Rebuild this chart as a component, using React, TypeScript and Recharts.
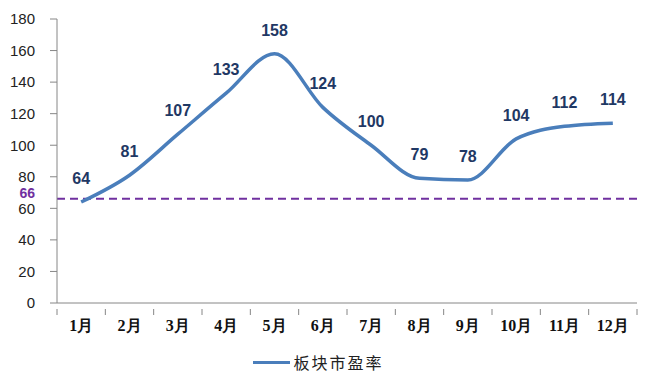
import React from 'react';
import {
  LineChart,
  Line,
  XAxis,
  YAxis,
  ReferenceLine,
  LabelList,
  Legend,
} from 'recharts';

const months = ['1月', '2月', '3月', '4月', '5月', '6月', '7月', '8月', '9月', '10月', '11月', '12月'];
const peValues = [64, 81, 107, 133, 158, 124, 100, 79, 78, 104, 112, 114];
const yTicks = [0, 20, 40, 60, 80, 100, 120, 140, 160, 180];
const refValue = 66;
const seriesName = '板块市盈率';

const data = months.map((m, i) => ({ month: m, pe: peValues[i] }));

const CHART_W = 656;
const Y_AXIS_W = 57;
const RIGHT_MARGIN = 19;
const HALF_BAND = (CHART_W - Y_AXIS_W - RIGHT_MARGIN) / months.length / 2;

// month label plus the tick marks that sit between categories
const MonthTick = (props: any) => {
  const { x, y, payload, index } = props;
  const top = y - 8;
  return (
    <g>
      <line x1={x - HALF_BAND} x2={x - HALF_BAND} y1={top} y2={top + 6} stroke="#868686" />
      {index === months.length - 1 && (
        <line x1={x + HALF_BAND} x2={x + HALF_BAND} y1={top} y2={top + 6} stroke="#868686" />
      )}
      <text
        x={x}
        y={y + 14}
        textAnchor="middle"
        fontSize={16}
        fontWeight="bold"
        fill="#111"
        fontFamily='"Liberation Serif", serif'
      >
        {payload.value}
      </text>
    </g>
  );
};

const renderLegend = () => (
  <div style={{ display: 'flex', justifyContent: 'center', alignItems: 'center', paddingTop: 8, height: 20, lineHeight: '20px' }}>
    <span style={{ display: 'inline-block', width: 37, height: 3, background: '#4a7ebb', marginRight: 3 }} />
    <span style={{ fontFamily: '"Noto Sans CJK SC", serif', fontSize: 16, color: '#222', letterSpacing: 2 }}>
      {seriesName}
    </span>
  </div>
);

export default function App() {
  return (
    <div style={{ position: 'absolute', left: 0, top: 0 }}>
      <LineChart width={CHART_W} height={374} data={data} margin={{ top: 19, right: RIGHT_MARGIN, bottom: 0, left: 0 }}>
        <XAxis
          dataKey="month"
          height={41}
          padding={{ left: HALF_BAND, right: HALF_BAND }}
          tickLine={false}
          axisLine={{ stroke: '#868686' }}
          tickMargin={8}
          tick={<MonthTick />}
          interval={0}
        />
        <YAxis
          width={Y_AXIS_W}
          domain={[0, 180]}
          ticks={yTicks}
          tickLine={{ stroke: '#868686' }}
          axisLine={{ stroke: '#868686' }}
          tickSize={7}
          tickMargin={15}
          tick={{ fontSize: 15, fill: '#222', fontFamily: '"Liberation Sans", sans-serif' }}
        />
        <ReferenceLine
          y={refValue}
          stroke="#7030a0"
          strokeWidth={2}
          strokeDasharray="8 5"
          label={{ value: String(refValue), position: 'left', offset: 22, dy: -6, fill: '#7030a0', fontSize: 14, fontWeight: 'bold', fontFamily: '"Liberation Sans", sans-serif' }}
        />
        <Line
          type="monotone"
          dataKey="pe"
          name={seriesName}
          stroke="#4a7ebb"
          strokeWidth={3.5}
          dot={false}
          isAnimationActive={false}
        >
          <LabelList
            dataKey="pe"
            position="top"
            offset={18}
            style={{ fontSize: 16, fontWeight: 'bold', fill: '#1f3864', fontFamily: '"Liberation Sans", sans-serif' }}
          />
        </Line>
        <Legend verticalAlign="bottom" height={30} content={renderLegend} />
      </LineChart>
    </div>
  );
}
